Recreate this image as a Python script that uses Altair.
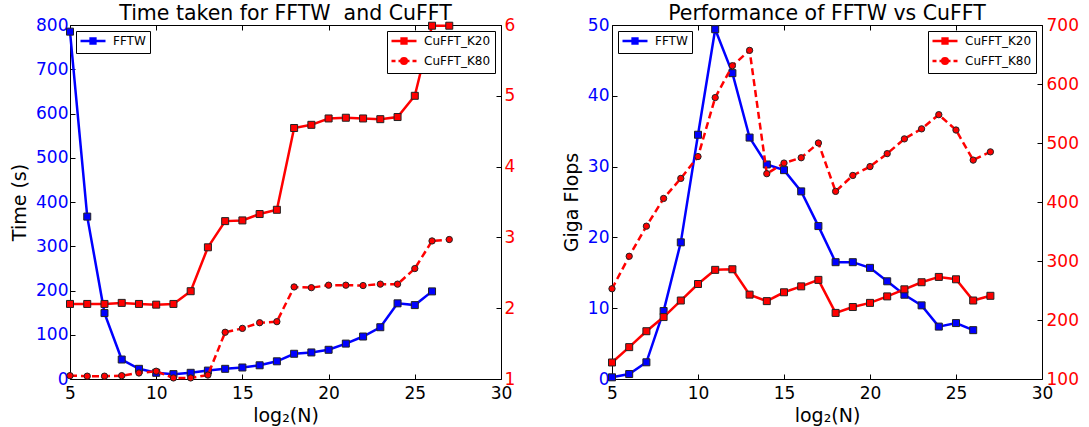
import altair as alt
import pandas as pd

# ---------------- data ----------------
log2n_fftw = list(range(5, 27))
log2n_cufft = list(range(5, 28))

time_fftw = [785, 367, 149, 44, 23, 14, 11, 14, 19, 23, 26, 31, 40, 57, 60, 66, 80, 96, 117, 171, 167, 198]
time_k20 = [2.06, 2.06, 2.06, 2.075, 2.06, 2.05, 2.06, 2.24, 2.86, 3.23, 3.24, 3.33, 3.39,
            4.545, 4.59, 4.68, 4.69, 4.68, 4.67, 4.70, 5.0, 5.99, 5.99]
time_k80 = [1.047, 1.04, 1.04, 1.047, 1.085, 1.11, 1.015, 1.015, 1.056, 1.66, 1.715, 1.795, 1.81,
            2.30, 2.29, 2.325, 2.325, 2.32, 2.34, 2.34, 2.56, 2.95, 2.97]

gflops_fftw = [0.24, 0.7, 2.36, 9.6, 19.3, 34.5, 49.4, 43.2, 34.1, 30.3, 29.5, 26.5, 21.6,
               16.5, 16.5, 15.7, 13.8, 11.9, 10.4, 7.4, 7.9, 6.9]
gflops_k20 = [128, 154, 181, 205, 233, 261, 285, 286, 243, 232, 247, 257, 268, 212, 222, 229,
              240, 252, 264, 273, 269, 233, 241]
gflops_k80 = [253, 308, 359, 406, 440, 477, 577, 631, 657, 448, 466, 475, 500, 418, 445, 460,
              482, 507, 524, 548, 522, 471, 485]

x_ticks = [5, 10, 15, 20, 25, 30]

BLUE = "#0000ff"
RED = "#ff0000"
EDGE = "#222222"
FONT = "DejaVu Sans"
W_L, W_R, H = 431, 430, 354

# legend symbols: line + marker (unit = 4px)
SYM_SQ = "M-1.375,0H4.875M1.15,-0.6H2.35V0.6H1.15Z"
SYM_CI = ("M-1.375,0H-0.375M0.375,0H1.125M2.375,0H3.125M3.875,0H4.875"
          "M2.45,0A0.7,0.7,0,1,1,1.05,0A0.7,0.7,0,1,1,2.45,0Z")


def tick_axis(orient, offset, values):
    return alt.Axis(orient=orient, offset=offset, values=values, labels=False, domain=False,
                    grid=False, title=None, ticks=True, tickSize=5, tickColor="black", tickWidth=1)


def panel(title, ytitle, yl_vals, k20_vals, k80_vals, ldom, lticks, rdom, rticks, width,
          ll_pad, lr_pad, t_pad):
    df_f = pd.DataFrame({"x": log2n_fftw, "y": yl_vals, "series": "FFTW"})
    df_20 = pd.DataFrame({"x": log2n_cufft, "y": k20_vals, "series": "CuFFT_K20"})
    df_80 = pd.DataFrame({"x": log2n_cufft, "y": k80_vals, "series": "CuFFT_K80"})
    df_k = pd.concat([df_20, df_80])

    xs = alt.Scale(domain=[5, 30], nice=False, zero=False)
    ysl = alt.Scale(domain=ldom, nice=False, zero=False)
    ysr = alt.Scale(domain=rdom, nice=False, zero=False)

    x_main = alt.X("x:Q", scale=xs, axis=alt.Axis(
        orient="bottom", values=x_ticks, title="log₂(N)", grid=False, domain=False,
        ticks=False, tickSize=0, labelPadding=6, labelFontSize=17, labelColor="black",
        labelFlush=False, labelOverlap=False, titleFontSize=19, titleFontWeight="normal",
        titlePadding=5, titleColor="black"))
    x_in_bottom = alt.X("x:Q", scale=xs, axis=tick_axis("top", -H, x_ticks))
    x_in_top = alt.X("x:Q", scale=xs, axis=tick_axis("bottom", -H, x_ticks))
    x_none = alt.X("x:Q", scale=xs, axis=None)

    y_left = alt.Y("y:Q", scale=ysl, axis=alt.Axis(
        orient="left", values=lticks, title=ytitle, grid=False, domain=False, ticks=False,
        tickSize=0, labelPadding=ll_pad, labelFontSize=17, labelColor=BLUE, labelFlush=False,
        labelOverlap=False, titleFontSize=19, titleFontWeight="normal", titlePadding=t_pad,
        titleColor="black"))
    y_left_in = alt.Y("y:Q", scale=ysl, axis=tick_axis("right", -width, lticks))
    y_right = alt.Y("y:Q", scale=ysr, axis=alt.Axis(
        orient="right", values=rticks, title=None, grid=False, domain=False, ticks=False,
        tickSize=0, labelPadding=lr_pad, labelFontSize=17, labelColor=RED, labelFlush=False,
        labelOverlap=False))
    y_right_in = alt.Y("y:Q", scale=ysr, axis=tick_axis("left", -width, rticks))
    y_r_none = alt.Y("y:Q", scale=ysr, axis=None)

    leg_common = dict(title=None, padding=4, strokeColor="black", fillColor="white",
                      cornerRadius=0, labelFontSize=12, labelFont=FONT, labelColor="black",
                      symbolSize=64, symbolStrokeWidth=2.5, labelOffset=21, rowPadding=4,
                      offset=6)

    fftw_line = alt.Chart(df_f).mark_line(color=BLUE, strokeWidth=2.5, clip=False).encode(
        x=x_main, y=y_left)
    fftw_pts = alt.Chart(df_f).mark_point(
        shape="square", filled=True, fill=BLUE, stroke=EDGE, strokeWidth=1, size=49,
        opacity=1).encode(x=x_in_bottom, y=y_left_in)
    leg_f = alt.Legend(orient="top-left", symbolStrokeColor=BLUE, **leg_common)
    fftw_leg = alt.Chart(df_f).transform_filter("datum.x < 0").mark_point(
        filled=True, opacity=1).encode(
        color=alt.Color("series:N", scale=alt.Scale(domain=["FFTW"], range=[BLUE]), legend=leg_f),
        shape=alt.Shape("series:N", scale=alt.Scale(domain=["FFTW"], range=[SYM_SQ]), legend=leg_f))

    k20_line = alt.Chart(df_20).mark_line(color=RED, strokeWidth=2.5).encode(
        x=x_in_top, y=y_right)
    k80_line = alt.Chart(df_80).mark_line(color=RED, strokeWidth=2.5, strokeDash=[7, 4]).encode(
        x=x_none, y=y_r_none)
    k20_pts = alt.Chart(df_20).mark_point(
        shape="square", filled=True, fill=RED, stroke=EDGE, strokeWidth=1, size=49,
        opacity=1).encode(x=x_none, y=y_right_in)
    k80_pts = alt.Chart(df_80).mark_point(
        shape="circle", filled=True, fill=RED, stroke=EDGE, strokeWidth=1, size=40,
        opacity=1).encode(x=x_none, y=y_r_none)
    leg_k = alt.Legend(orient="top-right", symbolStrokeColor=RED, **leg_common)
    k_dom = ["CuFFT_K20", "CuFFT_K80"]
    k_leg = alt.Chart(df_k).transform_filter("datum.x < 0").mark_point(
        filled=True, opacity=1).encode(
        color=alt.Color("series:N", scale=alt.Scale(domain=k_dom, range=[RED, RED]), legend=leg_k),
        shape=alt.Shape("series:N", scale=alt.Scale(domain=k_dom, range=[SYM_SQ, SYM_CI]),
                        legend=leg_k))

    return alt.layer(
        fftw_line, fftw_pts, k20_line, k80_line, k20_pts, k80_pts, fftw_leg, k_leg
    ).resolve_scale(
        x="independent", y="independent", color="independent", shape="independent"
    ).resolve_axis(
        x="independent", y="independent"
    ).resolve_legend(
        color="independent", shape="independent"
    ).properties(
        width=width, height=H,
        title=alt.TitleParams(title, fontSize=20.5, font=FONT, fontWeight="normal",
                              color="black", offset=-8, anchor="middle")
    )


left = panel("Time taken for FFTW\u00a0 and CuFFT", "Time (s)", time_fftw, time_k20, time_k80,
             [0, 800], [0, 100, 200, 300, 400, 500, 600, 700, 800],
             [1, 6], [1, 2, 3, 4, 5, 6], W_L, 2, 3, 6)
right = panel("Performance of FFTW vs CuFFT", "Giga Flops", gflops_fftw, gflops_k20, gflops_k80,
              [0, 50], [0, 10, 20, 30, 40, 50],
              [100, 700], [100, 200, 300, 400, 500, 600, 700], W_R, 3, 4, 6)

chart = alt.hconcat(left, right, spacing=111, bounds="flush").properties(
    padding={"left": 10, "top": 3, "right": 5, "bottom": 5}
).configure(font=FONT).configure_view(stroke="black", strokeWidth=1)

chart.save("out.html", embed_options={"renderer": "svg", "actions": False})
